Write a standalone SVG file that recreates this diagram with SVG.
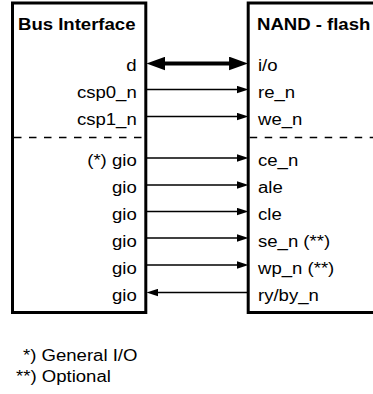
<svg xmlns="http://www.w3.org/2000/svg" width="373" height="394" viewBox="0 0 373 394">
  <style>
    .box { fill: #fff; stroke: #000; stroke-width: 3; }
    .sep { stroke: #000; stroke-width: 1.4; stroke-dasharray: 7.5 7.5; fill: none; }
    .title { font-family: "Liberation Sans", Arial, sans-serif; font-size: 16px; font-weight: bold; fill: #000; }
    .lbl { font-family: "Liberation Sans", Arial, sans-serif; font-size: 16px; fill: #000; }
    .end { text-anchor: end; }
    .sig { stroke: #000; stroke-width: 1.5; fill: none; }
    .bus { stroke: #000; stroke-width: 4; fill: none; }
  </style>
  <defs>
    <marker id="head" markerUnits="userSpaceOnUse" markerWidth="12" markerHeight="8" viewBox="0 0 11 7" refX="5" refY="3.5" orient="auto-start-reverse">
      <path d="M0,0 L11,3.5 L0,7 Z" fill="#000"/>
    </marker>
    <marker id="bushead" markerUnits="userSpaceOnUse" markerWidth="19" markerHeight="14" viewBox="0 0 18 13" refX="8" refY="6.5" orient="auto-start-reverse">
      <path d="M0,0 L18,6.5 L0,13 Z" fill="#000"/>
    </marker>
  </defs>

  <!-- host side -->
  <g id="bus-interface">
    <rect class="box" x="12.5" y="3" width="133.3" height="309.5"/>
    <line class="sep" x1="14" y1="137.5" x2="144.5" y2="137.5"/>
    <text class="title" transform="translate(18 30) scale(1.16 1)">Bus Interface</text>
    <text class="lbl end" transform="translate(136.7 71) scale(1.16 1)">d</text>
    <text class="lbl end" transform="translate(136.7 97.5) scale(1.16 1)">csp0_n</text>
    <text class="lbl end" transform="translate(136.7 124.5) scale(1.16 1)">csp1_n</text>
    <text class="lbl end" transform="translate(136.7 166) scale(1.16 1)">(*) gio</text>
    <text class="lbl end" transform="translate(136.7 193) scale(1.16 1)">gio</text>
    <text class="lbl end" transform="translate(136.7 219.5) scale(1.16 1)">gio</text>
    <text class="lbl end" transform="translate(136.7 246.5) scale(1.16 1)">gio</text>
    <text class="lbl end" transform="translate(136.7 273.5) scale(1.16 1)">gio</text>
    <text class="lbl end" transform="translate(136.7 301) scale(1.16 1)">gio</text>
  </g>

  <!-- flash device side -->
  <g id="nand-flash">
    <rect class="box" x="248.2" y="3" width="140" height="309.5"/>
    <line class="sep" x1="249.7" y1="137.5" x2="373" y2="137.5"/>
    <text class="title" transform="translate(257 30) scale(1.16 1)">NAND - flash</text>
    <text class="lbl" transform="translate(258 71) scale(1.16 1)">i/o</text>
    <text class="lbl" transform="translate(258 97.5) scale(1.16 1)">re_n</text>
    <text class="lbl" transform="translate(258 124.5) scale(1.16 1)">we_n</text>
    <text class="lbl" transform="translate(258 166) scale(1.16 1)">ce_n</text>
    <text class="lbl" transform="translate(258 193) scale(1.16 1)">ale</text>
    <text class="lbl" transform="translate(258 219.5) scale(1.16 1)">cle</text>
    <text class="lbl" transform="translate(258 246.5) scale(1.16 1)">se_n (**)</text>
    <text class="lbl" transform="translate(258 273.5) scale(1.16 1)">wp_n (**)</text>
    <text class="lbl" transform="translate(258 301) scale(1.16 1)">ry/by_n</text>
  </g>

  <!-- signal connections -->
  <g id="connectors">
    <line class="bus" x1="157" y1="63.5" x2="237.5" y2="63.5" marker-start="url(#bushead)" marker-end="url(#bushead)"/>
    <line class="sig" x1="147" y1="89.5" x2="242" y2="89.5" marker-end="url(#head)"/>
    <line class="sig" x1="147" y1="116.5" x2="242" y2="116.5" marker-end="url(#head)"/>
    <line class="sig" x1="147" y1="158" x2="242" y2="158" marker-end="url(#head)"/>
    <line class="sig" x1="147" y1="185" x2="242" y2="185" marker-end="url(#head)"/>
    <line class="sig" x1="147" y1="211.5" x2="242" y2="211.5" marker-end="url(#head)"/>
    <line class="sig" x1="147" y1="238" x2="242" y2="238" marker-end="url(#head)"/>
    <line class="sig" x1="147" y1="265" x2="242" y2="265" marker-end="url(#head)"/>
    <line class="sig" x1="153" y1="292.5" x2="247" y2="292.5" marker-start="url(#head)"/>
  </g>

  <!-- footnotes -->
  <g id="notes">
    <text class="lbl" transform="translate(23 361) scale(1.16 1)">*) General I/O</text>
    <text class="lbl" transform="translate(16 381.5) scale(1.16 1)">**) Optional</text>
  </g>
</svg>
